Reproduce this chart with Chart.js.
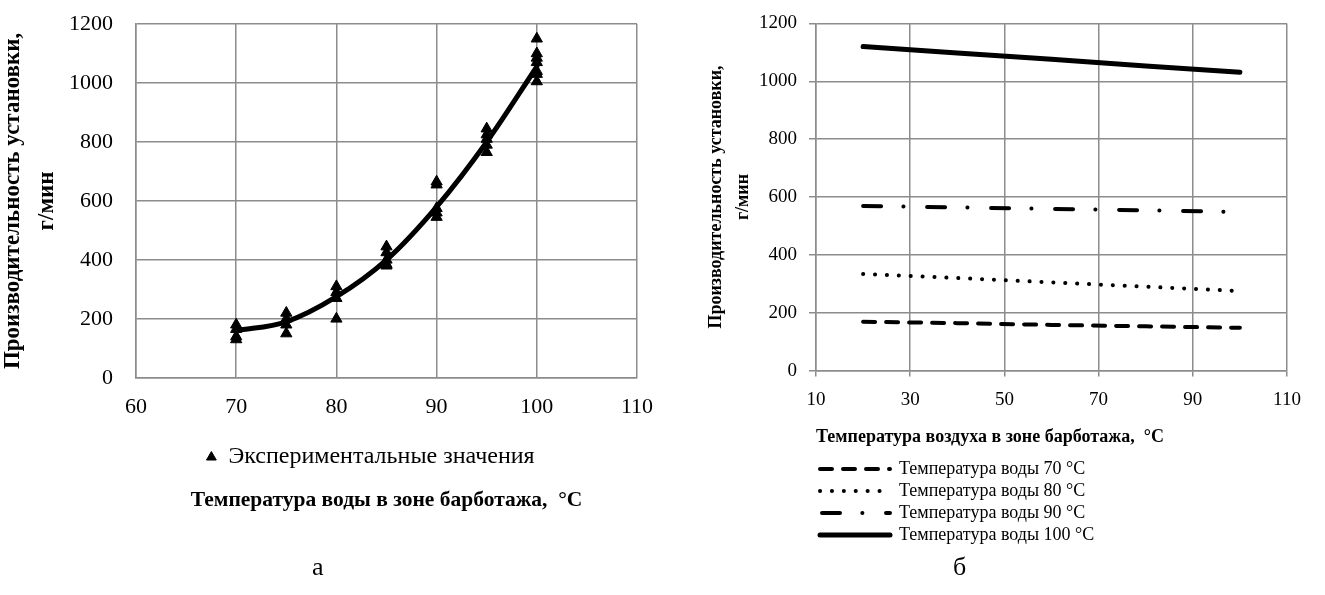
<!DOCTYPE html>
<html>
<head>
    <meta charset="utf-8">
    <title>Производительность установки</title>
    <script src="https://cdn.jsdelivr.net/npm/chart.js@4.4.1/dist/chart.umd.min.js"></script>
    <style>
        body { margin: 0; background: #fff; overflow: hidden; }
        .box { position: absolute; top: 0; }
        .cap { position: absolute; top: 552px; font: 26px "Liberation Serif", serif; color: #000; }
    </style>
</head>
<body>
    <div class="box" style="left:0px"><canvas id="chartA" width="665" height="595"></canvas></div>
    <div class="box" style="left:665px"><canvas id="chartB" width="660" height="595"></canvas></div>
    <div class="cap" style="left:312px">а</div>
    <div class="cap" style="left:953px">б</div>

    <script>
        // chart a: fitted curve + experimental points
        var fitTemp = [70, 75, 80, 85, 90, 95, 100];
        var fitOutput = [160, 190, 275, 400, 580, 800, 1055];

        var expTemp = [70, 70, 70, 70, 75, 75, 75, 75, 80, 80, 80, 80, 85, 85, 85, 85, 85,
                       90, 90, 90, 90, 90, 95, 95, 95, 95, 95, 100, 100, 100, 100, 100, 100, 100];
        var expOutput = [180, 165, 140, 130, 220, 200, 180, 150, 310, 290, 270, 200, 445, 425, 400, 385, 380,
                         665, 655, 575, 560, 545, 845, 825, 810, 790, 765, 1150, 1100, 1085, 1070, 1040, 1030, 1005];

        // chart b: output vs air temperature
        var airTemp = [20, 40, 60, 80, 100];
        var water70 = [169, 164, 158, 153, 148];
        var water80 = [334, 320, 305, 290, 275];
        var water90 = [569, 564, 559, 554, 548];
        var water100 = [1120, 1098, 1076, 1053, 1031];
        var waterLabels = ['Температура воды 70 °C', 'Температура воды 80 °C',
                           'Температура воды 90 °C', 'Температура воды 100 °C'];

        var yTitle = ['Производительность установки,', 'г/мин'];

        Chart.defaults.font.family = '"Liberation Serif", "Times New Roman", serif';
        Chart.defaults.color = '#000';
        Chart.defaults.animation = false;

        var gridColor = '#8c8c8c';
        var plain = function (v) { return String(v); };

        function pts(xs, ys) {
            return xs.map(function (x, i) { return {x: x, y: ys[i]}; });
        }

        // left padding moves the full-width legend; the y axis fills the rest up to x=136.
        // mirrored ticks with negative padding put the labels back left of the axis (no clipping)
        var padLeftA = 104;

        new Chart('chartA', {
            type: 'line',
            data: {
                datasets: [{
                    type: 'scatter',
                    label: 'Экспериментальные значения',
                    data: pts(expTemp, expOutput),
                    pointStyle: 'triangle',
                    pointRadius: 6.5,
                    pointBorderWidth: 1,
                    backgroundColor: '#000',
                    borderColor: '#000'
                }, {
                    label: 'fit',
                    data: pts(fitTemp, fitOutput),
                    borderColor: '#000',
                    borderWidth: 5,
                    borderCapStyle: 'round',
                    cubicInterpolationMode: 'monotone',
                    pointRadius: 0
                }]
            },
            options: {
                responsive: false,
                layout: {padding: {top: 24, left: padLeftA, right: 28, bottom: 72}},
                scales: {
                    x: {
                        type: 'linear', min: 60, max: 110,
                        ticks: {stepSize: 10, padding: 0, font: {size: 22}, callback: plain},
                        grid: {color: gridColor, lineWidth: 1.5, tickLength: 16, tickColor: 'rgba(0,0,0,0)'},
                        border: {color: gridColor, width: 1.5}
                    },
                    y: {
                        min: 0, max: 1200,
                        ticks: {stepSize: 200, mirror: true, crossAlign: 'far', padding: -67,
                                font: {size: 22}, callback: plain},
                        grid: {color: gridColor, lineWidth: 1.5, drawTicks: false},
                        border: {color: gridColor, width: 1.5},
                        title: {display: true, text: yTitle, font: {size: 23, weight: 'bold', lineHeight: '34px'},
                                padding: {top: 13 - 17 - padLeftA, bottom: 0}},
                        afterFit: function (s) { s.width = 136 - padLeftA; }
                    }
                },
                plugins: {
                    legend: {
                        position: 'bottom',
                        labels: {
                            usePointStyle: true, boxWidth: 10, boxHeight: 8, padding: 25,
                            font: {size: 24},
                            filter: function (item) { return item.datasetIndex === 0; }
                        }
                    },
                    title: {
                        display: true, position: 'bottom', fullSize: false,
                        text: 'Температура воды в зоне барботажа,  °C',
                        font: {size: 21.5, weight: 'bold'},
                        padding: {top: 8, bottom: 10}
                    },
                    tooltip: {enabled: false}
                }
            }
        });

        // dash phase of the legend samples
        var legendDashOffset = [0, 0, 62, 0];

        new Chart('chartB', {
            type: 'line',
            data: {
                datasets: [{
                    label: waterLabels[0],
                    data: pts(airTemp, water70),
                    borderWidth: 4, borderDash: [12, 11], borderCapStyle: 'round'
                }, {
                    label: waterLabels[1],
                    data: pts(airTemp, water80),
                    borderWidth: 4, borderDash: [0.1, 11.8], borderCapStyle: 'round'
                }, {
                    label: waterLabels[2],
                    data: pts(airTemp, water90),
                    borderWidth: 4, borderDash: [18, 22.3, 0.1, 23.6], borderCapStyle: 'round'
                }, {
                    label: waterLabels[3],
                    data: pts(airTemp, water100),
                    borderWidth: 5, borderCapStyle: 'round'
                }]
            },
            options: {
                responsive: false,
                elements: {line: {borderColor: '#000', tension: 0}, point: {radius: 0}},
                layout: {padding: {top: 23, left: 0, right: 38, bottom: 41}},
                scales: {
                    x: {
                        type: 'linear', min: 10, max: 110,
                        ticks: {stepSize: 20, padding: 12, font: {size: 19}, callback: plain},
                        grid: {color: gridColor, lineWidth: 1.5, tickLength: 6},
                        border: {color: gridColor, width: 1.5},
                        title: {display: true, align: 'start', text: 'Температура воздуха в зоне барботажа,  °C',
                                font: {size: 18, weight: 'bold'}, padding: {top: 3, bottom: 8}}
                    },
                    y: {
                        min: 0, max: 1200,
                        ticks: {stepSize: 200, padding: 12, font: {size: 19}, callback: plain},
                        grid: {color: gridColor, lineWidth: 1.5, tickLength: 7},
                        border: {color: gridColor, width: 1.5},
                        title: {display: true, text: yTitle, font: {size: 18, weight: 'bold', lineHeight: '27px'},
                                padding: {top: 38, bottom: 0}},
                        afterFit: function (s) { s.width = 151; }
                    }
                },
                plugins: {
                    legend: {
                        position: 'bottom', fullSize: false, align: 'start',
                        labels: {
                            usePointStyle: true, pointStyleWidth: 70, padding: 4,
                            font: {size: 18},
                            generateLabels: function (chart) {
                                return chart.data.datasets.map(function (ds, i) {
                                    return {
                                        text: ds.label,
                                        fillStyle: '#000',
                                        strokeStyle: '#000',
                                        fontColor: '#000',
                                        lineWidth: ds.borderWidth,
                                        lineDash: ds.borderDash || [],
                                        lineDashOffset: legendDashOffset[i],
                                        lineCap: 'round',
                                        pointStyle: 'line',
                                        hidden: false,
                                        datasetIndex: i
                                    };
                                });
                            }
                        }
                    },
                    tooltip: {enabled: false}
                }
            }
        });
    </script>
</body>
</html>
